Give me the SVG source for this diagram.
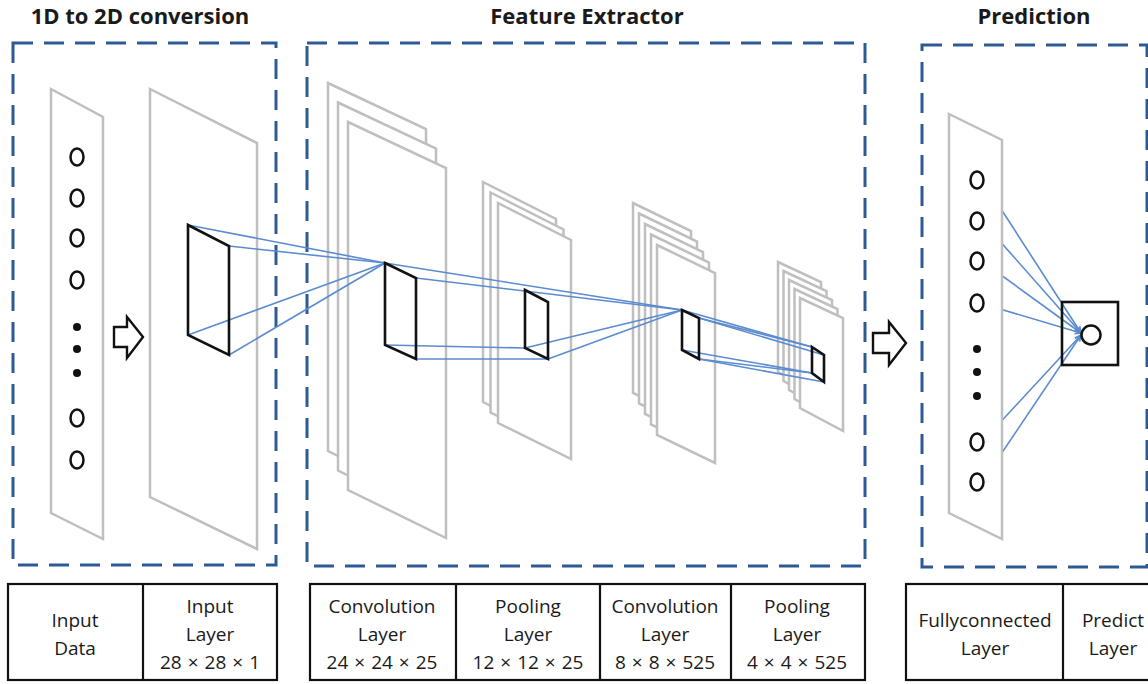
<svg xmlns="http://www.w3.org/2000/svg" width="1148" height="684" viewBox="0 0 1148 684">
  <defs>
    <style>
      .title { font-family: "Open Sans", "Liberation Sans", sans-serif; font-weight: bold; font-size: 22px; fill: #1a1a1a; text-anchor: middle; }
      .cell { font-family: "Open Sans", "Liberation Sans", sans-serif; font-size: 19px; fill: #1a1a1a; text-anchor: middle; }
      .frame { fill: none; stroke: #2e5a94; stroke-width: 3; stroke-dasharray: 20 11; }
      .plane { fill: #ffffff; stroke: #bfbfbf; stroke-width: 2.5; stroke-linejoin: miter; }
      .win { fill: none; stroke: #111111; stroke-width: 2.6; stroke-linejoin: miter; }
      .link { fill: none; stroke: #5b8bd0; stroke-width: 1.6; }
      .neuron { fill: none; stroke: #111111; stroke-width: 2.5; }
      .dot { fill: #111111; }
      .table { fill: #ffffff; stroke: #111111; stroke-width: 2.2; }
      .rule { stroke: #111111; stroke-width: 2.2; }
      .step { fill: #ffffff; stroke: #111111; stroke-width: 2.4; stroke-linejoin: miter; }
    </style>
    <marker id="head" viewBox="0 0 10 10" refX="9" refY="5" markerWidth="7" markerHeight="7" orient="auto" markerUnits="userSpaceOnUse">
      <path d="M0,1 L10,5 L0,9" fill="none" stroke="#5b8bd0" stroke-width="1.6"/>
    </marker>
  </defs>

  <rect width="1148" height="684" fill="#ffffff"/>

  <!-- section titles -->
  <text class="title" x="140" y="24">1D to 2D conversion</text>
  <text class="title" x="587" y="24">Feature Extractor</text>
  <text class="title" x="1034" y="24">Prediction</text>

  <!-- dashed section frames -->
  <g id="frames">
    <rect class="frame" x="13" y="43" width="263" height="522"/>
    <rect class="frame" x="307" y="43" width="558" height="523"/>
    <rect class="frame" x="922" y="45" width="225" height="522"/>
  </g>

  <!-- 1D input vector -->
  <g id="input-data">
    <polygon class="plane" points="51,89 103,117 103,539 51,513"/>
    <ellipse class="neuron" cx="77" cy="157" rx="6.5" ry="8.5"/>
    <ellipse class="neuron" cx="77" cy="198" rx="6.5" ry="8.5"/>
    <ellipse class="neuron" cx="77" cy="238" rx="6.5" ry="8.5"/>
    <ellipse class="neuron" cx="77" cy="280" rx="6.5" ry="8.5"/>
    <circle class="dot" cx="77" cy="327" r="4"/>
    <circle class="dot" cx="77" cy="349" r="4"/>
    <circle class="dot" cx="77" cy="373" r="4"/>
    <ellipse class="neuron" cx="77" cy="418" rx="6.5" ry="8.5"/>
    <ellipse class="neuron" cx="77" cy="460" rx="6.5" ry="8.5"/>
  </g>

  <!-- conversion step arrow -->
  <g id="step-1">
    <polygon class="step" points="114,327 127,327 127,317 143,337 127,358 127,347 114,347"/>
  </g>

  <!-- 28x28 input plane -->
  <g id="input-layer">
    <polygon class="plane" points="150,89 257,143 257,549 150,497"/>
  </g>

  <!-- first convolution stack -->
  <g id="conv-1">
    <polygon class="plane" points="328,83 426,129 426,499 328,451"/>
    <polygon class="plane" points="338,102.5 436,148.5 436,518.5 338,470.5"/>
    <polygon class="plane" points="348,122 446,168 446,538 348,490"/>
  </g>

  <!-- first pooling stack -->
  <g id="pool-1">
    <polygon class="plane" points="483,182 556,219 556,438 483,402"/>
    <polygon class="plane" points="490.5,192.5 563.5,229.5 563.5,448.5 490.5,412.5"/>
    <polygon class="plane" points="498,203 571,240 571,459 498,423"/>
  </g>

  <!-- second convolution stack -->
  <g id="conv-2">
    <polygon class="plane" points="633,203 691,231 691,421 633,393"/>
    <polygon class="plane" points="639,213.5 697,241.5 697,431.5 639,403.5"/>
    <polygon class="plane" points="645,224 703,252 703,442 645,414"/>
    <polygon class="plane" points="651,234.5 709,262.5 709,452.5 651,424.5"/>
    <polygon class="plane" points="657,245 715,273 715,463 657,435"/>
  </g>

  <!-- second pooling stack -->
  <g id="pool-2">
    <polygon class="plane" points="778,262 821,282 821,395 778,372"/>
    <polygon class="plane" points="783.5,271 826.5,291 826.5,404 783.5,381"/>
    <polygon class="plane" points="789,280 832,300 832,413 789,390"/>
    <polygon class="plane" points="794.5,289 837.5,309 837.5,422 794.5,399"/>
    <polygon class="plane" points="800,298 843,318 843,431 800,408"/>
  </g>

  <!-- receptive-field links between layers -->
  <g id="connectors">
    <line class="link" x1="188" y1="225" x2="385" y2="263"/>
    <line class="link" x1="229" y1="246" x2="385" y2="263"/>
    <line class="link" x1="188" y1="335" x2="385" y2="263"/>
    <line class="link" x1="229" y1="355" x2="385" y2="263"/>

    <line class="link" x1="385" y1="263" x2="682" y2="310"/>
    <line class="link" x1="416" y1="278" x2="682" y2="310"/>
    <line class="link" x1="385" y1="345" x2="525" y2="348"/>
    <line class="link" x1="416" y1="359" x2="548" y2="359"/>

    <line class="link" x1="525" y1="348" x2="682" y2="310"/>
    <line class="link" x1="548" y1="359" x2="682" y2="310"/>

    <line class="link" x1="682" y1="310" x2="812" y2="347"/>
    <line class="link" x1="699" y1="318" x2="812" y2="347"/>
    <line class="link" x1="699" y1="318" x2="824" y2="355"/>
    <line class="link" x1="682" y1="350" x2="812" y2="373"/>
    <line class="link" x1="699" y1="359" x2="812" y2="373"/>
    <line class="link" x1="699" y1="359" x2="824" y2="382"/>

    <line class="link" x1="983" y1="181" x2="1081" y2="333" marker-end="url(#head)"/>
    <line class="link" x1="983" y1="222" x2="1081" y2="333" marker-end="url(#head)"/>
    <line class="link" x1="983" y1="262" x2="1081" y2="333" marker-end="url(#head)"/>
    <line class="link" x1="983" y1="304" x2="1081" y2="333" marker-end="url(#head)"/>
    <line class="link" x1="983" y1="441" x2="1081" y2="335" marker-end="url(#head)"/>
    <line class="link" x1="983" y1="481" x2="1081" y2="335" marker-end="url(#head)"/>
  </g>

  <!-- sliding windows -->
  <g id="windows">
    <polygon class="win" points="188,225 229,246 229,355 188,335"/>
    <polygon class="win" points="385,263 416,278 416,359 385,345"/>
    <polygon class="win" points="525,290 548,302 548,359 525,348"/>
    <polygon class="win" points="682,310 699,318 699,359 682,350"/>
    <polygon class="win" points="812,347 824,355 824,382 812,373"/>
  </g>

  <!-- step arrow into prediction -->
  <g id="step-2">
    <polygon class="step" points="873,333 889,333 889,322 906,343 889,365 889,353 873,353"/>
  </g>

  <!-- fully connected vector -->
  <g id="fc-layer">
    <polygon class="plane" points="949,114 1002,140 1002,539 949,513"/>
    <ellipse class="neuron" cx="977" cy="180" rx="6.5" ry="8.5"/>
    <ellipse class="neuron" cx="977" cy="221" rx="6.5" ry="8.5"/>
    <ellipse class="neuron" cx="977" cy="261" rx="6.5" ry="8.5"/>
    <ellipse class="neuron" cx="977" cy="303" rx="6.5" ry="8.5"/>
    <circle class="dot" cx="977" cy="349" r="4"/>
    <circle class="dot" cx="977" cy="372" r="4"/>
    <circle class="dot" cx="977" cy="396" r="4"/>
    <ellipse class="neuron" cx="977" cy="442" rx="6.5" ry="8.5"/>
    <ellipse class="neuron" cx="977" cy="482" rx="6.5" ry="8.5"/>
  </g>

  <!-- output unit -->
  <g id="output">
    <rect x="1062" y="302" width="56" height="63" fill="none" stroke="#111111" stroke-width="2.6"/>
    <circle cx="1091" cy="335" r="9.5" fill="none" stroke="#111111" stroke-width="2.5"/>
  </g>

  <!-- layer tables -->
  <g id="table-1">
    <rect class="table" x="8" y="584" width="269" height="96"/>
    <line class="rule" x1="143" y1="584" x2="143" y2="680"/>
    <text class="cell" x="75" y="627">Input</text>
    <text class="cell" x="75" y="655">Data</text>
    <text class="cell" x="210" y="613">Input</text>
    <text class="cell" x="210" y="641">Layer</text>
    <text class="cell" x="210" y="669">28<tspan dx="6">×</tspan><tspan dx="6">28</tspan><tspan dx="6">×</tspan><tspan dx="6">1</tspan></text>
  </g>

  <g id="table-2">
    <rect class="table" x="310" y="584" width="555" height="96"/>
    <line class="rule" x1="456" y1="584" x2="456" y2="680"/>
    <line class="rule" x1="600" y1="584" x2="600" y2="680"/>
    <line class="rule" x1="731" y1="584" x2="731" y2="680"/>
    <text class="cell" x="382" y="613">Convolution</text>
    <text class="cell" x="382" y="641">Layer</text>
    <text class="cell" x="382" y="669">24<tspan dx="6">×</tspan><tspan dx="6">24</tspan><tspan dx="6">×</tspan><tspan dx="6">25</tspan></text>
    <text class="cell" x="528" y="613">Pooling</text>
    <text class="cell" x="528" y="641">Layer</text>
    <text class="cell" x="528" y="669">12<tspan dx="6">×</tspan><tspan dx="6">12</tspan><tspan dx="6">×</tspan><tspan dx="6">25</tspan></text>
    <text class="cell" x="665" y="613">Convolution</text>
    <text class="cell" x="665" y="641">Layer</text>
    <text class="cell" x="665" y="669">8<tspan dx="6">×</tspan><tspan dx="6">8</tspan><tspan dx="6">×</tspan><tspan dx="6">525</tspan></text>
    <text class="cell" x="797" y="613">Pooling</text>
    <text class="cell" x="797" y="641">Layer</text>
    <text class="cell" x="797" y="669">4<tspan dx="6">×</tspan><tspan dx="6">4</tspan><tspan dx="6">×</tspan><tspan dx="6">525</tspan></text>
  </g>

  <g id="table-3">
    <rect class="table" x="906" y="584" width="260" height="96"/>
    <line class="rule" x1="1063" y1="584" x2="1063" y2="680"/>
    <text class="cell" x="985" y="627">Fullyconnected</text>
    <text class="cell" x="985" y="655">Layer</text>
    <text class="cell" x="1113" y="627">Predict</text>
    <text class="cell" x="1113" y="655">Layer</text>
  </g>
</svg>
